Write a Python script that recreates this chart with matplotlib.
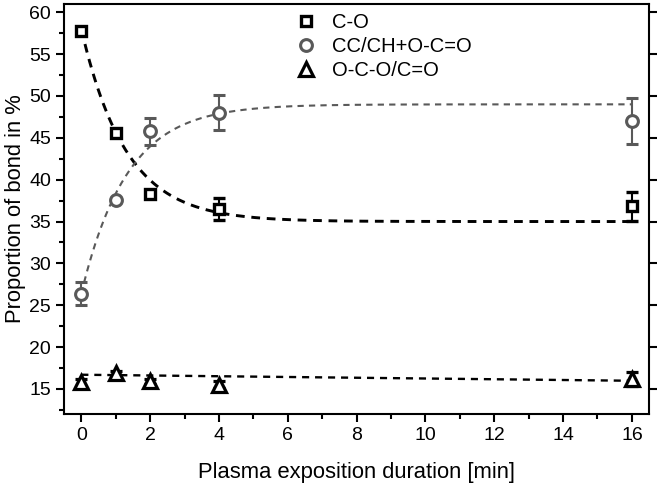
import numpy as np
import matplotlib
matplotlib.use('Agg')
import matplotlib.pyplot as plt

plt.rcParams['font.family'] = ['Liberation Sans', 'DejaVu Sans']

# --- data ---
duration = [0, 1, 2, 4, 16]

co_val = [57.8, 45.6, 38.3, 36.5, 36.8]
co_err = [0.4, 0.3, 0.3, 1.3, 1.7]

cc_val = [26.4, 37.6, 45.8, 48.0, 47.0]
cc_err = [1.4, 0.2, 1.6, 2.1, 2.7]

oco_val = [15.8, 16.9, 15.9, 15.5, 16.2]
oco_err = [0.4, 0.3, 0.3, 0.4, 0.8]

labels = ['C-O', 'CC/CH+O-C=O', 'O-C-O/C=O']

# fitted trend parameters (asymptote, amplitude, time constant)
co_fit = (35.0, 23.0, 1.3)
cc_fit = (49.0, -22.6, 1.33)
oco_fit = (16.7, -0.045)  # offset, slope

GRAY = '#595959'

fig = plt.figure(figsize=(6.61, 4.86), dpi=100)
ax = fig.add_axes([0.097, 0.148, 0.885, 0.844])

t = np.linspace(0, 16, 400)
ax.plot(t, co_fit[0] + co_fit[1] * np.exp(-t / co_fit[2]), ls=(0, (3, 2.3)),
        color='black', lw=2.1, zorder=2)
ax.plot(t, cc_fit[0] + cc_fit[1] * np.exp(-t / cc_fit[2]), ls=(0, (3, 2.5)),
        color=GRAY, lw=1.5, zorder=2)
ax.plot(t, oco_fit[0] + oco_fit[1] * t, ls=(0, (3, 2.5)),
        color='black', lw=1.7, zorder=2)

ax.errorbar(duration, co_val, yerr=co_err, fmt='s', ms=7, mfc='white', mec='black',
            mew=2.4, ecolor='black', elinewidth=1.5, capsize=4, capthick=1.5,
            label=labels[0], zorder=3)
ax.errorbar(duration, cc_val, yerr=cc_err, fmt='o', ms=8.5, mfc='white', mec=GRAY,
            mew=2.2, ecolor=GRAY, elinewidth=1.5, capsize=4, capthick=1.5,
            label=labels[1], zorder=3)
ax.errorbar(duration, oco_val, yerr=oco_err, fmt='^', ms=9.5, mfc='white', mec='black',
            mew=2.3, ecolor='black', elinewidth=1.5, capsize=4, capthick=1.5,
            label=labels[2], zorder=3)

ax.set_xlim(-0.5, 16.5)
ax.set_ylim(12, 61)
ax.set_xticks(range(0, 17, 2))
ax.set_xticks(range(1, 17, 2), minor=True)
ax.set_yticks(range(15, 61, 5))
ax.set_yticks(np.arange(12.5, 61, 5), minor=True)

ax.tick_params(axis='both', which='major', direction='out', length=6, width=1.5,
               labelsize=14, right=True, top=False)
ax.tick_params(axis='both', which='minor', direction='out', length=3.5, width=1.5,
               right=False, top=False)
for s in ax.spines.values():
    s.set_linewidth(1.5)

ax.set_xlabel('Plasma exposition duration [min]', fontsize=15.8, labelpad=13)
ax.set_ylabel('Proportion of bond in %', fontsize=15.8, labelpad=2)

handles, labs = ax.get_legend_handles_labels()
handles = [h[0] for h in handles]
ax.legend(handles, labs, loc='upper left', bbox_to_anchor=(0.365, 1.022), frameon=False,
          fontsize=14.5, handletextpad=0.8, labelspacing=0.26, handlelength=1.0)

fig.savefig('out.png', dpi=100)
